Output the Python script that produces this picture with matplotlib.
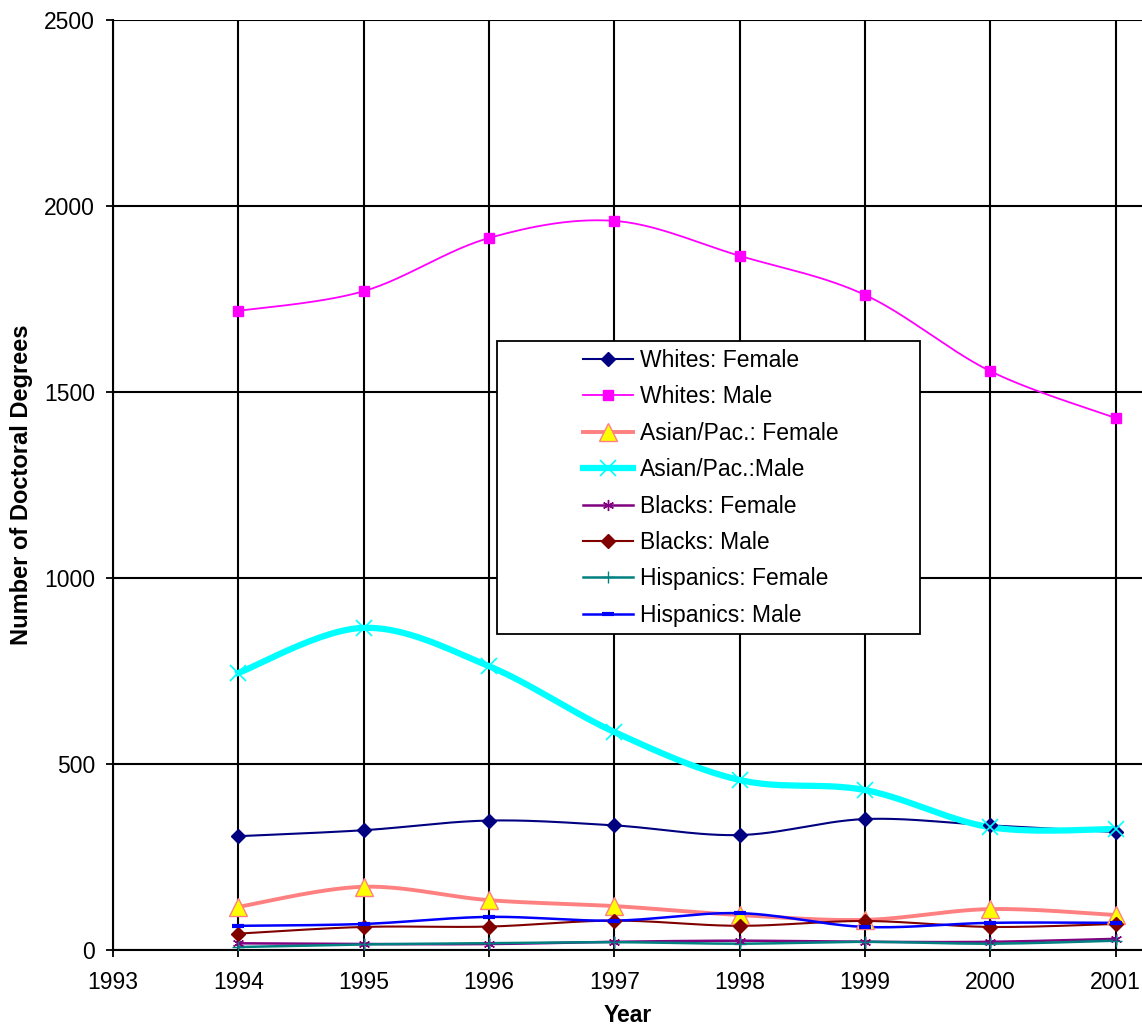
import numpy as np
import matplotlib
matplotlib.use("Agg")
import matplotlib.pyplot as plt
from matplotlib.patches import Rectangle

plt.rcParams['font.family'] = ['Liberation Sans', 'DejaVu Sans']

years = [1994, 1995, 1996, 1997, 1998, 1999, 2000, 2001]
whites_female = [306, 322, 348, 335, 309, 352, 335, 317]
whites_male = [1718, 1771, 1914, 1960, 1866, 1761, 1556, 1430]
asian_female = [116, 170, 134, 118, 94, 81, 110, 94]
asian_male = [745, 866, 763, 586, 457, 430, 330, 325]
blacks_female = [18, 16, 16, 22, 25, 22, 22, 30]
blacks_male = [44, 62, 63, 79, 65, 78, 62, 70]
hispanics_female = [8, 15, 18, 21, 17, 22, 17, 25]
hispanics_male = [65, 70, 89, 79, 99, 62, 73, 73]


def smooth(x, y, n=30):
    # Excel style smoothed line: bezier segments through each point
    x = np.asarray(x, float)
    y = np.asarray(y, float)
    px = np.concatenate([[x[0]], x, [x[-1]]])
    py = np.concatenate([[y[0]], y, [y[-1]]])
    t = np.linspace(0, 1, n)[:, None]
    out = []
    for i in range(1, len(px) - 2):
        p0 = np.array([px[i], py[i]])
        p3 = np.array([px[i + 1], py[i + 1]])
        c1 = p0 + (p3 - np.array([px[i - 1], py[i - 1]])) / 6
        c2 = p3 - (np.array([px[i + 2], py[i + 2]]) - p0) / 6
        seg = ((1 - t) ** 3) * p0 + 3 * ((1 - t) ** 2) * t * c1 + 3 * (1 - t) * t ** 2 * c2 + t ** 3 * p3
        out.append(seg if i == 1 else seg[1:])
    pts = np.vstack(out)
    return pts[:, 0], pts[:, 1]


series = [
    ("Whites: Female", whites_female, dict(color='#000080', lw=1.5, marker='D', ms=7, mfc='#000080', mec='#000080')),
    ("Whites: Male", whites_male, dict(color='#FF00FF', lw=1.3, marker='s', ms=7, mfc='#FF00FF', mec='#FF00FF')),
    ("Asian/Pac.: Female", asian_female, dict(color='#FF8080', lw=2.8, marker='^', ms=13, mfc='#FFFF00', mec='#FF8080')),
    ("Asian/Pac.:Male", asian_male, dict(color='#00FFFF', lw=4.5, marker='x', ms=12, mfc='#00FFFF', mec='#00FFFF', mew=1.2)),
    ("Blacks: Female", blacks_female, dict(color='#800080', lw=1.8, marker=(6, 2, 0), ms=8, mfc='#800080', mec='#800080')),
    ("Blacks: Male", blacks_male, dict(color='#800000', lw=1.5, marker='D', ms=7, mfc='#800000', mec='#800000')),
    ("Hispanics: Female", hispanics_female, dict(color='#008080', lw=1.8, marker='+', ms=9, mfc='#008080', mec='#008080')),
    ("Hispanics: Male", hispanics_male, dict(color='#0000FF', lw=1.8, marker='_', ms=8, mfc='#0000FF', mec='#0000FF', mew=3)),
]

fig = plt.figure(figsize=(11.42, 10.31), dpi=100)
ax = fig.add_axes([113 / 1142, 1 - 950 / 1031, 1 - 113 / 1142, 930 / 1031])

handles = []
for label, vals, st in series:
    sx, sy = smooth(years, vals)
    ax.plot(sx, sy, color=st['color'], lw=st['lw'], zorder=3)
    ax.plot(years, vals, ls='none', marker=st['marker'], ms=st['ms'], mfc=st['mfc'],
            mec=st['mec'], mew=st.get('mew', 1), zorder=4)
    h, = ax.plot([], [], color=st['color'], lw=st['lw'], marker=st['marker'], ms=st['ms'],
                 mfc=st['mfc'], mec=st['mec'], mew=st.get('mew', 1), label=label)
    handles.append(h)

ax.set_xlim(1993, 2001.21)
ax.set_ylim(0, 2500)
ax.set_xticks(range(1993, 2002))
ax.set_yticks(range(0, 2501, 500))
ax.grid(True, color='black', lw=1.5)
ax.set_axisbelow(True)
for s in ['top', 'right']:
    ax.spines[s].set_visible(False)
ax.spines['left'].set_linewidth(1.5)
ax.spines['bottom'].set_linewidth(1.5)
ax.tick_params(axis='both', labelsize=16.5, direction='out', length=5, width=1.3)
ax.tick_params(axis='x', pad=10)
ax.tick_params(axis='y', pad=8)

ax.set_xlabel("Year", fontsize=16.5, fontweight='bold', labelpad=7)
ax.set_ylabel("Number of Doctoral Degrees", fontsize=17, fontweight='bold', labelpad=8)

# legend frame drawn separately so the entries can sit inset like the original
frame = Rectangle((0.3732, 0.3398), 0.4111, 0.315, transform=ax.transAxes,
                  facecolor='white', edgecolor='black', lw=1.3, zorder=6, clip_on=False)
ax.add_patch(frame)
leg = ax.legend(handles=handles, loc='upper left', bbox_to_anchor=(0.4568, 0.6462),
                fontsize=16.5, frameon=False, handlelength=2.18, handletextpad=0.3,
                labelspacing=0.585, borderpad=0, borderaxespad=0, numpoints=1)
leg.set_zorder(7)

fig.savefig("out.png", dpi=100)
